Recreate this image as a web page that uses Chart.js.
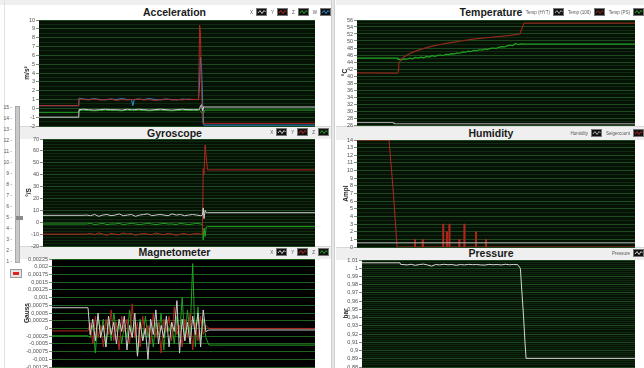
<!DOCTYPE html>
<html>
<head>
<meta charset="utf-8">
<script src="https://cdn.jsdelivr.net/npm/chart.js@4.4.1/dist/chart.umd.min.js"></script>
<style>
  body { margin: 0; width: 644px; height: 368px; overflow: hidden; background: #fff; position: relative;
         font-family: "Liberation Sans", Arial, sans-serif; }
  canvas { position: absolute; }
  .strip { position: absolute; background: #efefef; border-top: 1px solid #d8d8d8; box-sizing: border-box; }
  .ttl { position: absolute; font: bold 10.5px "Liberation Sans", Arial, sans-serif; color: #1b1b1b;
         transform: translateX(-50%); white-space: nowrap; line-height: 12px; }
  .leg { position: absolute; display: flex; align-items: center; font-size: 4.5px; color: #555; white-space: nowrap; }
  .leg span.n { margin: 0 3px 0 4px; }
  .leg svg { display: block; }
  .sep { position: absolute; left: 331px; top: 0; width: 4px; height: 368px; background: #e6e6e6;
         border-left: 1px solid #cfcfcf; border-right: 1px solid #cfcfcf; box-sizing: border-box; }
  .sl { position: absolute; font-size: 5px; color: #555; width: 12px; text-align: right; }
</style>
</head>
<body>
<div class="strip" style="left:0;top:0;width:331px;height:5px;border:none"></div>
<div class="strip" style="left:336px;top:0;width:308px;height:5px;border:none"></div>
<div class="strip" style="left:20px;top:126px;width:311px;height:13px"></div>
<div class="strip" style="left:20px;top:246px;width:311px;height:13px"></div>
<div class="strip" style="left:336px;top:126px;width:308px;height:14px"></div>
<div class="strip" style="left:336px;top:247px;width:308px;height:13px"></div>
<div class="sep"></div>
<div style="position:absolute;left:4px;top:0;width:1px;height:368px;background:#e2e2e2"></div>

<div id="slider"></div>
<div style="position:absolute;left:15px;top:106px;width:5px;height:157px;background:#c9c9c9;border:1px solid #aaa;box-sizing:border-box"></div>
<div style="position:absolute;left:16px;top:216px;width:7px;height:4px;background:#8a8a8a"></div>
<div style="position:absolute;left:10px;top:269px;width:12px;height:9px;background:#e4e4e4;border:1px solid #999;box-sizing:border-box">
  <div style="margin:2px auto 0;width:6px;height:3px;background:#d22"></div>
</div>

<div class="ttl" style="left:174.5px;top:6px">Acceleration</div>
<div class="ttl" style="left:174.5px;top:127px">Gyroscope</div>
<div class="ttl" style="left:174.5px;top:246px">Magnetometer</div>
<div class="ttl" style="left:491px;top:6px">Temperature</div>
<div class="ttl" style="left:491px;top:127px">Humidity</div>
<div class="ttl" style="left:491px;top:247px">Pressure</div>

<canvas id="acc"></canvas>
<canvas id="gyro"></canvas>
<canvas id="mag"></canvas>
<canvas id="temp"></canvas>
<canvas id="hum"></canvas>
<canvas id="pres"></canvas>

<script>
// ---- data (time axis in % of the recording window) ----

// Acceleration (m/s²)
const tAcc = [0, 14.4, 14.5, 16, 18, 20, 22, 24, 26, 28, 30, 32, 33.5, 34, 34.5, 36, 38, 40, 42, 44, 46, 48, 50, 52, 54, 56, 57.8, 58.2, 58.5, 58.9, 59.3, 59.7, 60.1, 100];
const accX = [-1.0, -1.0, -0.15, -0.1, -0.15, -0.2, -0.15, -0.1, -0.15, -0.15, -0.2, -0.1, -0.15, -0.15, -0.15,
  -0.1, -0.15, -0.2, -0.15, -0.1, -0.15, -0.2, -0.15, -0.1, -0.15, -0.15, -0.15, -0.1, 0.3, 0.4, -0.3, 0.2, 0.15, 0.15];
const accY = [0.3, 0.3, 1.1, 1.0, 0.95, 1.05, 0.95, 1.0, 1.05, 0.9, 1.0, 0.95, 1.0, 1.0, 1.0,
  1.05, 0.95, 1.0, 0.9, 1.0, 1.05, 0.95, 1.0, 0.95, 1.05, 1.0, 1.0, 9.4, 8.6, 2.0, -1.7, -1.7, -1.7, -1.7];
const accZ = [-0.45, -0.45, -0.25, -0.22, -0.25, -0.28, -0.25, -0.22, -0.25, -0.25, -0.28, -0.22, -0.25, -0.25, -0.25,
  -0.22, -0.25, -0.28, -0.25, -0.22, -0.25, -0.28, -0.25, -0.22, -0.25, -0.25, -0.25, -0.2, -0.3, -0.5, -0.65, -0.5, -0.2, -0.2];
const accW = [0.3, 0.3, 1.15, 1.05, 1.0, 1.1, 1.0, 0.95, 1.05, 1.0, 1.1, 1.0, 1.0, 0.3, 1.0,
  1.05, 1.0, 1.1, 1.0, 0.95, 1.05, 1.0, 0.95, 1.05, 1.0, 1.0, 1.0, 3.0, 5.8, 4.5, 0.5, -1.9, -1.9, -1.9];

// Gyroscope (°/S)
const tGyro = [0, 14.7, 16, 17.5, 19, 20.5, 22, 23.5, 25, 26.5, 28, 29.5, 31, 32.5, 34, 35.5, 37, 38.5, 40, 41.5,
  43, 44.5, 46, 47.5, 49, 50.5, 52, 53.5, 55, 56.5, 58, 58.6, 58.9, 59.2, 59.6, 60.0, 60.5, 61, 100];
const gyroX = [5.8, 5.8, 6, 5.5, 6.5, 5, 6, 6.5, 5.5, 6, 7, 5.5, 6, 6.5, 5, 6, 6.5, 7, 5.5, 6, 6.5, 6,
  5.5, 7, 6, 6.5, 5.5, 6, 6.5, 6, 5.5, 6, 12, 3, 10, 8, 8, 8, 8];
const gyroY = [-10, -10, -10, -9.5, -10.5, -9, -10, -11, -9.5, -10, -10.5, -9, -10, -9.5, -11, -10, -9.5, -10, -10.5, -9, -10, -10.5,
  -9.5, -10, -11, -10, -9.5, -10.5, -10, -9.5, -10, -10, 45, 40, 65, 55, 44, 44, 44];
const gyroZ = [-1.5, -1.5, -1.5, -1, -2, -1.5, -1, -2, -1.5, -1.5, -1, -2, -1.5, -1, -1.5, -2, -1.5, -1, -1.5, -2, -1.5, -1,
  -1.5, -1.5, -2, -1, -1.5, -2, -1.5, -1, -1.5, -2, -15, -5, -12, -4, -3.7, -3.7, -3.7];

// Magnetometer (Gauss)
const tMag = [0, 13.7, 14.5, 15.5, 16.5, 17.5, 18.5, 19.5, 20.5, 21.5, 22.5, 23.5, 24.5, 25.5, 26.5, 27.5, 28.5, 29.5,
  30.5, 31.5, 32.5, 33.5, 34.5, 35.5, 36.5, 37.5, 38.5, 39.5, 40.5, 41.5, 42.5, 43.5, 44.5, 45.5, 46.5, 47.5, 48.5,
  49.5, 50.5, 51.5, 52.5, 53.5, 54.5, 55.5, 56.5, 57.5, 58.5, 59.7, 100];
const magX = [0.00067, 0.00067,
  -0.0002, 0.0003, -0.0004, 0.0005, -0.0003, 0.0001, -0.0006, 0.0004, -0.0002, 0.0002,
  -0.0005, 0.0003, -0.0001, 0.0004, -0.0007, 0.0001, -0.0003, 0.0005, -0.0009, 0.0002,
  -0.0004, 0.0000, -0.0010, 0.0003, -0.0002, 0.0006, -0.0005, 0.0001, -0.0003, 0.0004,
  -0.0006, 0.0002, -0.0001, 0.0009, -0.0008, 0.0003, -0.0004, 0.0002, -0.0005, 0.0004,
  -0.0002, 0.0005, -0.0006, 0.0006, -0.0001,
  -0.00005, -0.00005];
const magY = [-0.00008, -0.00008,
  0.0002, -0.0005, 0.0004, -0.0003, 0.0001, -0.0006, 0.0003, -0.0002, 0.0006, -0.0004,
  0.0002, -0.0007, 0.0004, -0.0001, 0.0003, -0.0005, 0.0008, -0.0003, 0.0002, -0.0006,
  0.0004, -0.0002, 0.0001, -0.0005, 0.0005, -0.0003, 0.0002, -0.0008, 0.0003, -0.0001,
  0.0004, -0.0004, 0.0007, -0.0002, 0.0001, -0.0006, 0.0003, -0.0003, 0.0005, -0.0007,
  0.0002, -0.0004, 0.0004, -0.0002, 0.0001,
  0, 0];
const magZ = [-0.00024, -0.00024,
  -0.0003, 0.0001, -0.0008, 0.0004, -0.0002, 0.0003, -0.0006, 0.0002, -0.0004, 0.0005,
  -0.0001, 0.0002, -0.0005, 0.0001, -0.0003, 0.0006, -0.0002, 0.0002, -0.0009, 0.0003,
  -0.0004, 0.0004, -0.0003, 0.0001, -0.0006, 0.0002, -0.0002, 0.0005, -0.0007, 0.0003,
  -0.0001, 0.0002, -0.0005, 0.0004, -0.0003, 0.0010, -0.0004, 0.0006, -0.0002, 0.0021,
  -0.0006, 0.0007, -0.0004, 0.0003, -0.0003,
  -0.00054, -0.00054];

// Temperature (°C)
const tTempH = [0, 13, 13.3, 100];
const tempHYT = [26.7, 26.7, 26.35, 26.35];
const tTemp100 = [0, 14.6, 14.8, 15.0, 15.5, 16, 17, 18, 19.5, 21, 23, 25, 27.5, 30, 32.5, 35, 37.5, 40, 42.5, 45, 47.5,
  50, 52.5, 55, 57, 58.6, 59.3, 60.1, 100];
const temp100 = [40.9, 40.8, 41.5, 43.5, 44.3, 44.9, 45.5, 46.0, 46.6, 47.1, 47.6, 48.1, 48.6, 49.0, 49.4, 49.7, 50.0,
  50.3, 50.6, 50.8, 51.0, 51.2, 51.4, 51.6, 51.8, 52.0, 53.5, 55.1, 55.1];
const tTempPS = [0, 14.6, 14.8, 15, 16, 17, 18, 19, 20, 21, 22, 23, 24, 25, 26, 27, 28, 29, 30, 31, 32, 33, 34, 35, 36,
  37, 38, 39, 40, 41, 42, 43, 44, 45, 46, 47, 48, 49, 50, 51, 52, 53, 54, 55, 56, 57, 58, 59, 60, 100];
const tempPS = [45.1, 45.1, 44.7,
  44.9, 44.6, 44.9, 44.8, 45.1, 44.9, 45.3, 45.1, 45.4, 45.2,
  45.6, 45.4, 45.8, 45.6, 45.9, 46.0, 45.8, 46.2, 46.1, 46.4,
  46.3, 46.6, 46.5, 46.9, 46.8, 47.1, 47.0, 47.3, 47.2, 47.5,
  47.4, 47.7, 47.6, 47.9, 48.0, 47.9, 48.2, 48.4, 48.3, 48.6,
  48.8, 48.7, 49.3, 49.0,
  49.2, 49.1, 49.1];

// Humidity (Ampl)
const tHum = [0, 100];
const humidity = [0.55, 0.55];
const tSiege = [0, 11.5, 12.5, 13.3, 14.4, 100];
const siege = [14, 14, 9.7, 6, 0, 0];
const siegeSpikeT = [20.9, 23.6, 31.0, 32.3, 33.2, 36.8, 38.6, 42.8, 46.4];
const siegeSpikeV = [1, 1, 3, 2, 3, 1, 3, 2, 1];

// Pressure (bar)
const tPres = [0, 13.9, 14.2, 15, 16.5, 18, 19.5, 21, 22.5, 24, 25.5, 27, 28.5, 30, 31.5, 33, 34.5, 36, 37.5, 39, 40.5,
  42, 43.5, 45, 46.5, 48, 49.5, 51, 52.5, 54, 55.5, 57, 58.0, 58.6, 59.2, 59.7, 60.1, 100];
const pressure = [1.0066, 1.0066, 1.0045,
  1.0045, 1.004, 1.0048, 1.0035, 1.0045, 1.005, 1.004, 1.0025, 1.0045, 1.004,
  1.0048, 1.0042, 1.0045, 1.0035, 1.0045, 1.004, 1.0047, 1.0043, 1.0045, 1.004,
  1.0038, 1.0047, 1.0042, 1.0045, 1.004, 1.0048, 1.0042, 1.0045, 1.0044,
  1.0, 0.97, 0.94, 0.91, 0.8905, 0.8905];

// ---- drawing ----
const FONT = '"Liberation Sans", Arial, sans-serif';
const GRAY = '#cfcfcf', RED = '#b3261e', GREEN = '#22a322', BLUE = '#2b8fd6';

function pts(t, v) {
  return t.map((x, i) => ({ x: x, y: v[i] }));
}

function line(label, data, color, width) {
  return { label: label, data: data, borderColor: color, borderWidth: width || 1,
           pointRadius: 0, tension: 0, fill: false };
}

const plain = v => String(+v.toFixed(5));
const comma = v => String(+v.toFixed(5)).replace('.', ',');

function makePlot(id, box, y, datasets, bg) {
  const cv = document.getElementById(id);
  const w = box.right - box.left;
  const h = box.bottom - box.top + 12;
  cv.width = w; cv.height = h;
  cv.style.left = box.left + 'px';
  cv.style.top = (box.top - 6) + 'px';
  cv.style.width = w + 'px';
  cv.style.height = h + 'px';
  const isMajor = v => Math.abs(v / y.major - Math.round(v / y.major)) < 1e-6;

  const chart = new Chart(cv, {
    type: 'line',
    data: { datasets: datasets },
    options: {
      responsive: false,
      animation: false,
      events: [],
      layout: { padding: { top: 6, bottom: 6, left: 0, right: 0 } },
      plugins: { legend: { display: false }, tooltip: { enabled: false } },
      scales: {
        x: { type: 'linear', min: 0, max: 100, display: false },
        y: {
          min: y.min,
          max: y.max,
          afterFit: s => { s.width = box.plot - box.left; },
          title: {
            display: true, text: y.title, color: '#222',
            font: { family: FONT, size: 6.5, weight: 'bold' },
            padding: { top: box.titleX - box.left - 4, bottom: 0 }
          },
          ticks: {
            stepSize: y.minor, autoSkip: false, color: '#505050', padding: 1,
            font: { family: FONT, size: 5.5 },
            callback: v => isMajor(v) ? y.fmt(v) : ''
          },
          grid: {
            color: c => isMajor(c.tick.value) ? y.majorColor : y.minorColor,
            tickLength: 3,
            tickColor: c => isMajor(c.tick.value) ? '#888' : 'rgba(0,0,0,0)'
          },
          border: { display: false }
        }
      }
    },
    plugins: [{
      id: 'plotBg',
      beforeDraw(ch) {
        const a = ch.chartArea, ctx = ch.ctx;
        ctx.save();
        ctx.fillStyle = bg;
        ctx.fillRect(a.left, a.top, a.right - a.left, a.bottom - a.top);
        ctx.restore();
      }
    }]
  });

  // legend built from the chart's own datasets
  const lg = document.createElement('div');
  lg.className = 'leg';
  lg.style.right = (644 - box.legRight) + 'px';
  lg.style.top = box.legTop + 'px';
  chart.data.datasets.forEach(d => {
    const n = document.createElement('span');
    n.className = 'n';
    n.textContent = d.label;
    lg.appendChild(n);
    lg.insertAdjacentHTML('beforeend',
      '<svg width="11" height="8"><rect x="0.5" y="0.5" width="10" height="7" fill="#111" stroke="#777"/>' +
      '<polyline points="2,5 4,2.5 6,5.5 8,2.5 9.5,4" fill="none" stroke="' + d.borderColor + '" stroke-width="1"/></svg>');
  });
  document.body.appendChild(lg);
  return chart;
}

const darkBg = '#071207';
const gridMinor = '#102a10';
const gridMajor = '#1d4a1f';

makePlot('acc',
  { left: 20, plot: 39, right: 315, top: 20, bottom: 126, titleX: 27, legRight: 331, legTop: 8 },
  { min: -2, max: 10, minor: 0.5, major: 1, fmt: plain, title: 'm/s²', minorColor: gridMinor, majorColor: gridMajor },
  [line('X', pts(tAcc, accX), GRAY), line('Y', pts(tAcc, accY), RED),
   line('Z', pts(tAcc, accZ), GREEN), line('W', pts(tAcc, accW), BLUE)],
  darkBg);

makePlot('gyro',
  { left: 20, plot: 43, right: 315, top: 139, bottom: 246, titleX: 29, legRight: 329, legTop: 128 },
  { min: -20, max: 70, minor: 2.5, major: 10, fmt: plain, title: '°/S', minorColor: gridMinor, majorColor: gridMajor },
  [line('X', pts(tGyro, gyroX), GRAY), line('Y', pts(tGyro, gyroY), RED), line('Z', pts(tGyro, gyroZ), GREEN)],
  darkBg);

makePlot('mag',
  { left: 20, plot: 52, right: 315, top: 259, bottom: 367, titleX: 27, legRight: 329, legTop: 248 },
  { min: -0.00125, max: 0.00225, minor: 0.00025, major: 0.00025, fmt: comma, title: 'Gauss', minorColor: '#1d621d', majorColor: '#1d621d' },
  [line('X', pts(tMag, magX), GRAY), line('Y', pts(tMag, magY), RED), line('Z', pts(tMag, magZ), GREEN)],
  '#000');

makePlot('temp',
  { left: 336, plot: 357, right: 635, top: 20, bottom: 125, titleX: 345, legRight: 644, legTop: 8 },
  { min: 26, max: 56, minor: 1, major: 2, fmt: plain, title: '°C', minorColor: gridMinor, majorColor: gridMajor },
  [line('Temp (HYT)', pts(tTempH, tempHYT), '#a8a8a8'), line('Temp (100)', pts(tTemp100, temp100), '#8e2a1c', 1.2),
   line('Temp (PS)', pts(tTempPS, tempPS), GREEN, 1.2)],
  darkBg);

const siegePts = pts(tSiege, siege);
siegeSpikeT.forEach((t, i) => {
  siegePts.push({ x: t - 0.15, y: 0 }, { x: t - 0.15, y: siegeSpikeV[i] },
                { x: t + 0.15, y: siegeSpikeV[i] }, { x: t + 0.15, y: 0 });
});
siegePts.sort((a, b) => a.x - b.x);

makePlot('hum',
  { left: 336, plot: 357, right: 635, top: 140, bottom: 247, titleX: 346, legRight: 644, legTop: 129 },
  { min: 0, max: 14, minor: 0.5, major: 1, fmt: plain, title: 'Ampl', minorColor: gridMinor, majorColor: gridMajor },
  [line('Humidity', pts(tHum, humidity), '#b0b0b0'), line('Seigercount', siegePts, RED, 1)],
  darkBg);

makePlot('pres',
  { left: 336, plot: 362, right: 635, top: 260, bottom: 367, titleX: 346, legRight: 644, legTop: 249 },
  { min: 0.88, max: 1.01, minor: 0.0025, major: 0.01, fmt: comma, title: 'bar', minorColor: gridMinor, majorColor: gridMajor },
  [line('Pressure', pts(tPres, pressure), '#d6d6d6')],
  darkBg);

// slider scale on the left
const slider = document.getElementById('slider');
for (let i = 15; i >= 1; i--) {
  const d = document.createElement('div');
  d.className = 'sl';
  d.textContent = i + ' -';
  d.style.left = '0px';
  d.style.top = (104 + (15 - i) * 11) + 'px';
  slider.appendChild(d);
}
</script>
</body>
</html>
